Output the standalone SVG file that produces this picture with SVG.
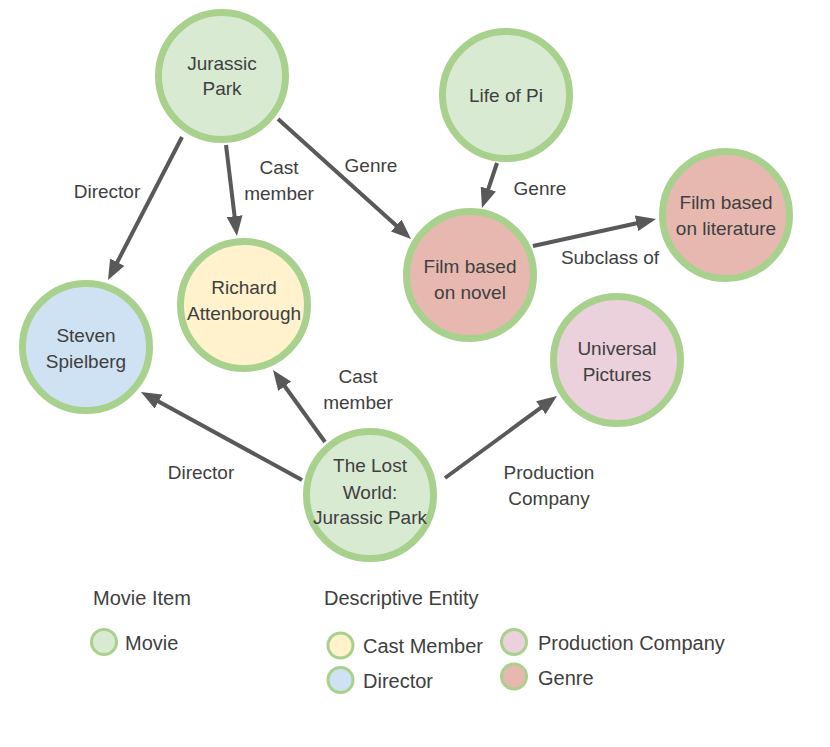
<svg xmlns="http://www.w3.org/2000/svg" width="830" height="747" viewBox="0 0 830 747">
<defs>
<style>
.node{stroke:#a9d18e;stroke-width:7}
.movie{fill:#d9ead3}
.genre{fill:#e6b8af}
.cast{fill:#fff2cc}
.dir{fill:#cfe2f3}
.prod{fill:#ead1dc}
.lg{stroke:#a9d18e;stroke-width:3}
text{font-family:"Liberation Sans",Arial,sans-serif;fill:#404040}
.nt{font-size:19px;text-anchor:middle}
.el{font-size:19px;text-anchor:middle}
.lt{font-size:20px}
.edge{stroke:#595959;stroke-width:4;fill:none;marker-end:url(#arr)}
</style>
<marker id="arr" viewBox="0 0 10 8" refX="6" refY="4" markerWidth="5" markerHeight="4" orient="auto" markerUnits="strokeWidth">
<path d="M0,0 L10,4 L0,8 Z" fill="#595959"/>
</marker>
</defs>
<rect width="830" height="747" fill="#ffffff"/>
<g id="connectors">
<line class="edge" x1="182" y1="137" x2="111.7" y2="272.9"/>
<line class="edge" x1="226" y1="145" x2="236" y2="228.1"/>
<line class="edge" x1="278" y1="119" x2="405.1" y2="233.6"/>
<line class="edge" x1="497" y1="163" x2="484.5" y2="200.4"/>
<line class="edge" x1="533" y1="246" x2="648.2" y2="220.7"/>
<line class="edge" x1="302" y1="480" x2="148" y2="395.8"/>
<line class="edge" x1="325" y1="442" x2="277.7" y2="376.5"/>
<line class="edge" x1="445" y1="478" x2="550.5" y2="400.7"/>
<text class="el" x="107" y="198">Director</text>
<text class="el" x="279" y="174">Cast</text>
<text class="el" x="279" y="200">member</text>
<text class="el" x="371" y="172">Genre</text>
<text class="el" x="540" y="195">Genre</text>
<text class="el" x="610" y="264">Subclass of</text>
<text class="el" x="358" y="383">Cast</text>
<text class="el" x="358" y="409">member</text>
<text class="el" x="201" y="479">Director</text>
<text class="el" x="549" y="479">Production</text>
<text class="el" x="549" y="505">Company</text>
</g>
<g id="jurassic-park">
<circle class="node movie" cx="222" cy="76" r="63.5"/>
<text class="nt" x="222" y="70">Jurassic</text>
<text class="nt" x="222" y="95">Park</text>
</g>
<g id="life-of-pi">
<circle class="node movie" cx="506" cy="95" r="63.5"/>
<text class="nt" x="506" y="102">Life of Pi</text>
</g>
<g id="film-based-on-novel">
<circle class="node genre" cx="470" cy="275" r="63.5"/>
<text class="nt" x="470" y="273">Film based</text>
<text class="nt" x="470" y="299">on novel</text>
</g>
<g id="film-based-on-literature">
<circle class="node genre" cx="726" cy="215" r="63.5"/>
<text class="nt" x="726" y="209">Film based</text>
<text class="nt" x="726" y="235">on literature</text>
</g>
<g id="richard-attenborough">
<circle class="node cast" cx="244" cy="305" r="63.5"/>
<text class="nt" x="244" y="294">Richard</text>
<text class="nt" x="244" y="320">Attenborough</text>
</g>
<g id="steven-spielberg">
<circle class="node dir" cx="86" cy="347" r="63.5"/>
<text class="nt" x="86" y="342">Steven</text>
<text class="nt" x="86" y="368">Spielberg</text>
</g>
<g id="universal-pictures">
<circle class="node prod" cx="617" cy="360" r="63.5"/>
<text class="nt" x="617" y="355">Universal</text>
<text class="nt" x="617" y="381">Pictures</text>
</g>
<g id="the-lost-world">
<circle class="node movie" cx="370" cy="495" r="63.5"/>
<text class="nt" x="370" y="472">The Lost</text>
<text class="nt" x="370" y="499">World:</text>
<text class="nt" x="370" y="524">Jurassic Park</text>
</g>
<g id="legend">
<text class="lt" x="93" y="605">Movie Item</text>
<text class="lt" x="324" y="605">Descriptive Entity</text>
<circle class="lg movie" cx="104" cy="642" r="12.5"/>
<text class="lt" x="125" y="650">Movie</text>
<circle class="lg cast" cx="340.5" cy="645.5" r="12.5"/>
<text class="lt" x="363" y="653">Cast Member</text>
<circle class="lg dir" cx="340.5" cy="680" r="12.5"/>
<text class="lt" x="363" y="688">Director</text>
<circle class="lg prod" cx="514" cy="642" r="12.5"/>
<text class="lt" x="538" y="650">Production Company</text>
<circle class="lg genre" cx="514" cy="676.5" r="12.5"/>
<text class="lt" x="538" y="685">Genre</text>
</g>
</svg>
